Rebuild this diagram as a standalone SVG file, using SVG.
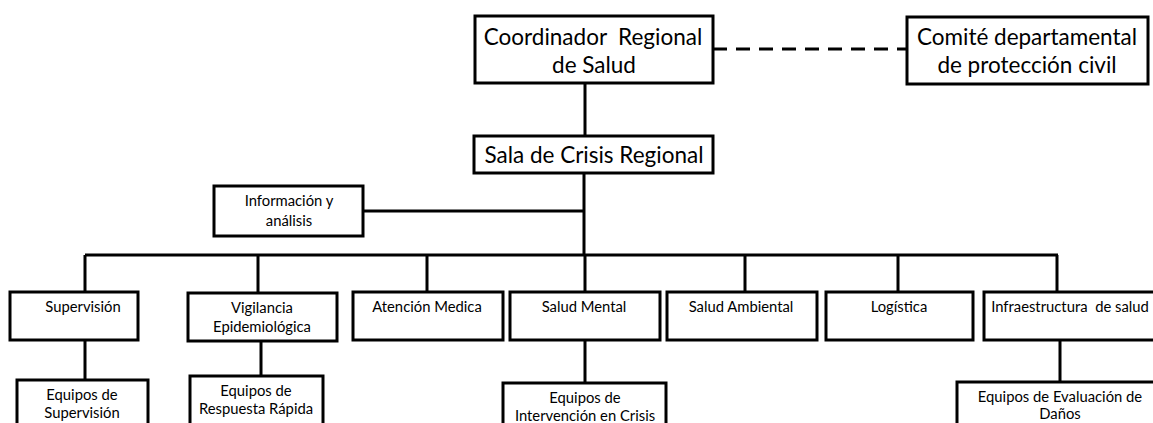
<svg xmlns="http://www.w3.org/2000/svg" width="1153" height="423" viewBox="0 0 1153 423" xml:space="preserve">
<style>
rect{fill:#fff;stroke:#000;stroke-width:3}
.l{stroke:#000;stroke-width:3;fill:none}
.d{stroke:#000;stroke-width:3;stroke-dasharray:14 9;fill:none}
text{font-family:Lato,"Liberation Sans",sans-serif;fill:#000;text-anchor:middle;white-space:pre}
.b{font-size:22.5px}
.s{font-size:14.8px}
</style>
<rect x="0" y="0" width="1153" height="423" style="stroke:none"/>
<g id="connectors">
<path class="d" d="M713 49H907"/>
<path class="l" d="M585 83V136M584 173V255M363 211H584M85 255H1058"/>
<path class="l" d="M85 255V292M258 255V293M427 255V292M585 255V292M745 255V292M898 255V292M1057 255V292"/>
<path class="l" d="M85 340V380M261 341V376M585 340V383M1060 340V382"/>
</g>
<g id="coordinador"><rect x="475" y="16" width="238" height="67"/><text class="b" x="593" y="45">Coordinador  Regional</text><text class="b" x="594" y="73">de Salud</text></g>
<g id="comite"><rect x="907" y="17" width="241" height="67"/><text class="b" x="1027" y="45">Comité departamental</text><text class="b" x="1027" y="73">de protección civil</text></g>
<g id="sala"><rect x="474" y="136" width="239" height="37"/><text class="b" x="594" y="163">Sala de Crisis Regional</text></g>
<g id="info"><rect x="214" y="186" width="149" height="50"/><text class="s" x="289" y="206">Información y</text><text class="s" x="289" y="226">análisis</text></g>
<g id="supervision"><rect x="10" y="292" width="128" height="48"/><text class="s" x="83" y="312">Supervisión</text></g>
<g id="vigilancia"><rect x="188" y="293" width="149" height="48"/><text class="s" x="262" y="313">Vigilancia</text><text class="s" x="262" y="332">Epidemiológica</text></g>
<g id="atencion"><rect x="353" y="292" width="150" height="48"/><text class="s" x="427" y="312">Atención Medica</text></g>
<g id="mental"><rect x="510" y="292" width="150" height="48"/><text class="s" x="584" y="312">Salud Mental</text></g>
<g id="ambiental"><rect x="667" y="292" width="150" height="48"/><text class="s" x="741" y="312">Salud Ambiental</text></g>
<g id="logistica"><rect x="826" y="292" width="147" height="48"/><text class="s" x="899" y="312">Logística</text></g>
<g id="infra"><rect x="984" y="292" width="180" height="48"/><text class="s" x="1070" y="312">Infraestructura  de salud</text></g>
<g id="eq-sup"><rect x="17" y="380" width="131" height="50"/><text class="s" x="82" y="400">Equipos de</text><text class="s" x="82" y="418">Supervisión</text></g>
<g id="eq-rr"><rect x="190" y="376" width="133" height="54"/><text class="s" x="256" y="396">Equipos de</text><text class="s" x="256" y="414">Respuesta Rápida</text></g>
<g id="eq-ic"><rect x="503" y="383" width="163" height="50"/><text class="s" x="585" y="403">Equipos de</text><text class="s" x="585" y="421">Intervención en Crisis</text></g>
<g id="eq-ed"><rect x="957" y="382" width="206" height="50"/><text class="s" x="1060" y="402">Equipos de Evaluación de</text><text class="s" x="1060" y="419">Daños</text></g>
</svg>
